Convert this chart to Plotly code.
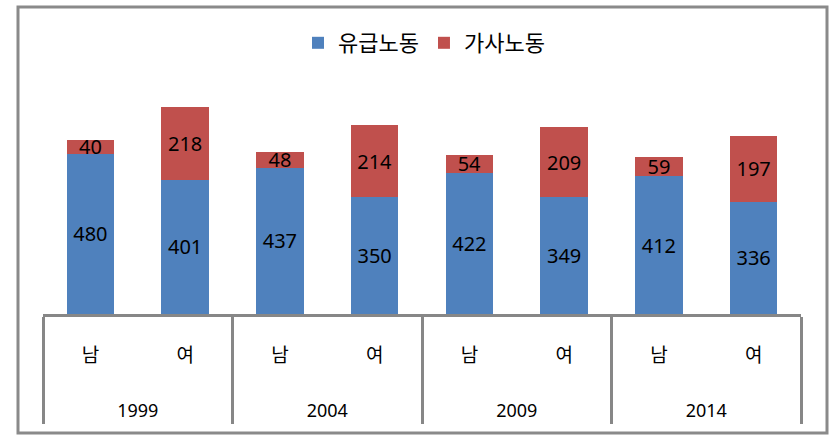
import plotly.graph_objects as go

years = ["1999", "2004", "2009", "2014"]
genders = ["남", "여"]
paid = [480, 401, 437, 350, 422, 349, 412, 336]
house = [40, 218, 48, 214, 54, 209, 59, 197]
series_names = ["유급노동", "가사노동"]
colors = ["#4F81BD", "#C0504D"]

year_level = [y for y in years for g in genders]
gender_level = [g for y in years for g in genders]
year_labels = ["<br><br><span style='font-size:18px'>%s</span>" % y for y in year_level]
x = [year_labels, gender_level]

FONT = "Noto Sans, Noto Sans CJK KR, sans-serif"
W, H = 835, 439
ml, mr, mt, mb = 43, 34, 80, 125
pw, ph = W - ml - mr, H - mt - mb

fig = go.Figure()
for name, vals, col in zip(series_names, [paid, house], colors):
    fig.add_trace(go.Bar(
        x=x, y=vals, name=name, marker=dict(color=col, line=dict(width=0)),
        text=[str(v) for v in vals], textposition="inside", insidetextanchor="middle",
        textangle=0,
        textfont=dict(color="#000000", size=20, family=FONT),
        hoverinfo="skip",
    ))

def px_x(p):
    return (p - ml) / pw

def px_y(p):
    return (H - mb - p) / ph

fig.update_layout(
    width=W, height=H,
    margin=dict(l=ml, r=mr, t=mt, b=mb),
    barmode="stack", bargap=0.5,
    paper_bgcolor="white", plot_bgcolor="white",
    font=dict(family=FONT, color="#000000"),
    uniformtext=dict(minsize=20, mode="show"),
    showlegend=True,
    legend=dict(orientation="h", x=px_x(424), xanchor="center", y=px_y(22), yanchor="top",
                font=dict(size=22, family=FONT), itemwidth=30, traceorder="normal",
                bgcolor="rgba(0,0,0,0)"),
    xaxis=dict(type="multicategory", showline=True, linecolor="#878787", linewidth=3,
               showdividers=True, dividercolor="#878787", dividerwidth=3,
               ticks="", ticklabelstandoff=22,
               tickfont=dict(size=19, family=FONT, color="#000000"),
               showgrid=False, zeroline=False),
    yaxis=dict(range=[0, 700], visible=False, showgrid=False, zeroline=False),
    shapes=[dict(type="rect", xref="paper", yref="paper",
                 x0=px_x(18), x1=px_x(827), y0=px_y(433), y1=px_y(7),
                 line=dict(color="#8a8a8a", width=3), fillcolor="rgba(0,0,0,0)", layer="below")],
)

fig.write_html("out.html")
